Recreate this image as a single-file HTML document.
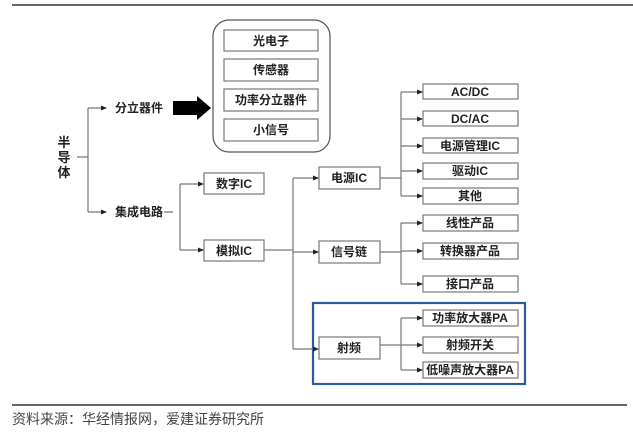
<!DOCTYPE html>
<html><head><meta charset="utf-8"><style>
html,body{margin:0;padding:0;background:#fff;width:633px;height:435px;overflow:hidden}
svg text{font-family:"Liberation Sans","Noto Sans CJK SC",sans-serif;font-weight:bold;font-size:12px;fill:#222}
</style></head><body>
<svg width="633" height="435" viewBox="0 0 633 435" xmlns="http://www.w3.org/2000/svg">
<defs><marker id="a" markerWidth="6" markerHeight="6" refX="5" refY="3" orient="auto" markerUnits="userSpaceOnUse"><path d="M0,0.5 L6,3 L0,5.5z" fill="#222"/></marker></defs>
<line x1="12" y1="5" x2="633" y2="5" stroke="#333" stroke-width="1.5"/>
<line x1="12" y1="405" x2="627" y2="405" stroke="#333" stroke-width="1.5"/>
<text x="12" y="424" style="font-weight:normal;font-size:14px;fill:#444">资料来源：华经情报网，爱建证券研究所</text>
<g stroke="#777" stroke-width="1.2" fill="none">
<rect x="213" y="20" width="117" height="132" rx="16" stroke="#555"/>
<rect x="224" y="30" width="94" height="21"/>
<rect x="224" y="59" width="94" height="22"/>
<rect x="224" y="89" width="94" height="22"/>
<rect x="224" y="119" width="94" height="22"/>
<rect x="204" y="173" width="60" height="21"/>
<rect x="204" y="240" width="60" height="21"/>
<rect x="319" y="167" width="61" height="22"/>
<rect x="319" y="241" width="61" height="22"/>
<rect x="319" y="337" width="61" height="22"/>
<rect x="423" y="84" width="95" height="15"/>
<rect x="423" y="111" width="95" height="15"/>
<rect x="423" y="138" width="95" height="15"/>
<rect x="423" y="163" width="95" height="16"/>
<rect x="423" y="188" width="95" height="16"/>
<rect x="423" y="215" width="95" height="16"/>
<rect x="423" y="243" width="95" height="16"/>
<rect x="423" y="276" width="95" height="16"/>
<rect x="423" y="310" width="95" height="16"/>
<rect x="423" y="337" width="95" height="16"/>
<rect x="423" y="362" width="95" height="16"/>
<rect x="313" y="303" width="212" height="81" stroke="#2a5aa0" stroke-width="2.2"/>
</g>
<g stroke="#777" stroke-width="1.2" fill="none">
<path d="M77,157 H88 M88,108 V212"/>
<path d="M88,108 H106" marker-end="url(#a)"/>
<path d="M88,212 H106" marker-end="url(#a)"/>
<path d="M164,212 H173 M180,184 V250"/>
<path d="M180,184 H203" marker-end="url(#a)"/>
<path d="M180,250 H203" marker-end="url(#a)"/>
<path d="M264,250 H293 M293,178 V349"/>
<path d="M293,178 H318" marker-end="url(#a)"/>
<path d="M293,252 H318" marker-end="url(#a)"/>
<path d="M293,349 H318" marker-end="url(#a)"/>
<path d="M380,178 H401 M401,92 V196"/>
<path d="M401,92 H422" marker-end="url(#a)"/>
<path d="M401,119 H422" marker-end="url(#a)"/>
<path d="M401,146 H422" marker-end="url(#a)"/>
<path d="M401,171 H422" marker-end="url(#a)"/>
<path d="M401,196 H422" marker-end="url(#a)"/>
<path d="M380,252 H401 M401,223 V284"/>
<path d="M401,223 H422" marker-end="url(#a)"/>
<path d="M401,251 H422" marker-end="url(#a)"/>
<path d="M401,284 H422" marker-end="url(#a)"/>
<path d="M380,345 H422" marker-end="url(#a)"/>
<path d="M401,318 V370"/>
<path d="M401,318 H422" marker-end="url(#a)"/>
<path d="M401,370 H422" marker-end="url(#a)"/>
</g>
<path d="M173,101 H197 V96 L211,108 L197,120 V115 H173z" fill="#000"/>
<g text-anchor="middle">
<text x="64" y="147" style="font-size:13px">半</text><text x="64" y="162" style="font-size:13px">导</text><text x="64" y="177" style="font-size:13px">体</text>
<text x="139" y="112">分立器件</text>
<text x="139" y="216">集成电路</text>
<text x="271" y="45">光电子</text>
<text x="271" y="74">传感器</text>
<text x="271" y="104">功率分立器件</text>
<text x="271" y="134">小信号</text>
<text x="234" y="188">数字IC</text>
<text x="234" y="255">模拟IC</text>
<text x="349" y="182">电源IC</text>
<text x="349" y="256">信号链</text>
<text x="349" y="352">射频</text>
<text x="470" y="96">AC/DC</text>
<text x="470" y="123">DC/AC</text>
<text x="470" y="150">电源管理IC</text>
<text x="470" y="175">驱动IC</text>
<text x="470" y="200">其他</text>
<text x="470" y="227">线性产品</text>
<text x="470" y="255">转换器产品</text>
<text x="470" y="288">接口产品</text>
<text x="470" y="322">功率放大器PA</text>
<text x="470" y="349">射频开关</text>
<text x="470" y="374">低噪声放大器PA</text>
</g>
</svg>
</body></html>
